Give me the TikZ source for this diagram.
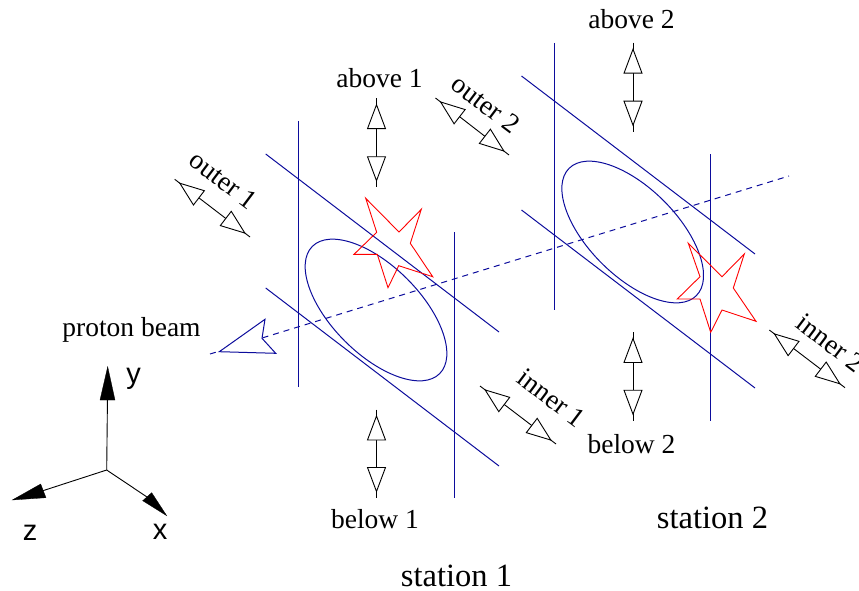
\documentclass[tikz,border=0pt]{standalone}
\usepackage{fontspec}
\setmainfont{Liberation Serif}
\newfontfamily\axisfont{Liberation Sans}
\usetikzlibrary{calc}
\definecolor{figblue}{HTML}{0C0C9C}
\tikzset{
  wire/.style={figblue,line width=1pt},
  beam/.style={figblue,line width=1pt,dash pattern=on 6pt off 5pt},
  starline/.style={red,line width=0.9pt,line join=miter},
  shaft/.style={black,line width=0.9pt},
  hollow/.style={black,fill=white,line width=0.9pt,line join=miter},
  solidhead/.style={black,fill=black,line width=0.3pt},
  lab/.style={inner sep=0pt,font=\fontsize{27.5}{30}\selectfont},
  biglab/.style={inner sep=0pt,font=\fontsize{32.5}{34}\selectfont},
  axlab/.style={inner sep=0pt,font=\axisfont\fontsize{29}{30}\selectfont}
}
\newcommand{\dblarrow}[3]{%
  \coordinate (#1a) at #2;
  \coordinate (#1b) at #3;
  \draw[shaft] (#1a) -- (#1b);
  \coordinate (#1p) at ($(#1a)!30.5pt!(#1b)$);
  \coordinate (#1q) at ($(#1b)!30.5pt!(#1a)$);
  \filldraw[hollow] ($(#1a)!6.5pt!(#1b)$) -- ($(#1p)!9pt!90:(#1a)$) -- ($(#1p)!9pt!-90:(#1a)$) -- cycle;
  \filldraw[hollow] ($(#1b)!6.5pt!(#1a)$) -- ($(#1q)!9pt!90:(#1b)$) -- ($(#1q)!9pt!-90:(#1b)$) -- cycle;
}
\begin{document}
\begin{tikzpicture}[x=1pt,y=-1pt]
\useasboundingbox (0,0) rectangle (859,591);
% station 1 frame
\coordinate (s1va) at (298.7,121); \coordinate (s1vb) at (298.7,387);
\coordinate (s1wa) at (454.3,232); \coordinate (s1wb) at (454.3,498);
\coordinate (s1ua) at (265.7,154); \coordinate (s1ub) at (499,332);
\coordinate (s1la) at (265.7,288); \coordinate (s1lb) at (499,466);
\draw[wire] (s1va) -- (s1vb);
\draw[wire] (s1wa) -- (s1wb);
\draw[wire] (s1ua) -- (s1ub);
\draw[wire] (s1la) -- (s1lb);
\draw[wire,rotate around={-45:(376,310)}] (376,310) ellipse [x radius=90pt,y radius=44pt];
% station 2 frame
\coordinate (s2va) at (554.7,43); \coordinate (s2vb) at (554.7,310);
\coordinate (s2wa) at (710.7,154); \coordinate (s2wb) at (710.7,421);
\coordinate (s2ua) at (521.5,76); \coordinate (s2ub) at (755,254);
\coordinate (s2la) at (521.5,210); \coordinate (s2lb) at (755,388);
\draw[wire] (s2va) -- (s2vb);
\draw[wire] (s2wa) -- (s2wb);
\draw[wire] (s2ua) -- (s2ub);
\draw[wire] (s2la) -- (s2lb);
\draw[wire,rotate around={-45:(632.7,232)}] (632.7,232) ellipse [x radius=90pt,y radius=44pt];
% beam
\coordinate (beamtip) at (210,354); \coordinate (beamend) at (789,176);
\draw[beam] (beamtip) -- (beamend);
\filldraw[wire,fill=white,line join=miter] (219.3,351.7) -- (265,319.3) -- (262,338.3) -- (275.7,353.3) -- cycle;
% stars
\draw[starline] (365.7,198.3) -- (376.7,232.3) -- (354,254.3) -- (377.3,254.3) -- (388,287.7) -- (398.7,265.7) -- (432.7,276.7) -- (410.3,243.3) -- (421.3,209.3) -- (399,232) -- cycle;
\draw[starline] (688.3,243.3) -- (700,276.7) -- (677.3,299) -- (700,299) -- (710.7,332.3) -- (722,310) -- (756,321.3) -- (733.3,288) -- (744.3,254) -- (722,276.7) -- cycle;
% double arrows
\dblarrow{ab1}{(376.5,98.2)}{(376.5,187.2)}
\dblarrow{be1}{(376.5,409.5)}{(376.5,498)}
\dblarrow{ab2}{(633,42.7)}{(633,131.7)}
\dblarrow{be2}{(633,332)}{(633,420.7)}
\dblarrow{ou1}{(174.7,179.3)}{(250,237)}
\dblarrow{ou2}{(435.5,98)}{(509,155)}
\dblarrow{in1}{(480,386)}{(556,444)}
\dblarrow{in2}{(769.3,330)}{(845,387.7)}
% axes
\coordinate (org) at (106.7,470);
\coordinate (ytip) at (107.7,366.7);
\coordinate (ztip) at (12.3,500);
\coordinate (xtip) at (166.7,515.7);
\draw[shaft] (org) -- (107.5,395);
\draw[shaft] (org) -- (42,491);
\draw[shaft] (org) -- (147,497);
\filldraw[solidhead] (ytip) -- (115,400) -- (100,400) -- cycle;
\filldraw[solidhead] (ztip) -- (40.7,484) -- (46,497.7) -- cycle;
\filldraw[solidhead] (xtip) -- (151.7,492.7) -- (142.7,500.7) -- cycle;
% labels
\node[lab] (tab1) at (379.5,78.5) {above 1};
\node[lab] (tab2) at (631.5,19.5) {above 2};
\node[lab] (tbe1) at (375,519) {below 1};
\node[lab] (tbe2) at (631.5,444) {below 2};
\node[lab] (tbeam) at (131.5,329.5) {proton beam};
\node[biglab] (tst1) at (456.5,576) {station 1};
\node[biglab] (tst2) at (712.5,518) {station 2};
\node[lab,rotate=-37] (tou1) at (223.5,180) {outer 1};
\node[lab,rotate=-37] (tou2) at (486,104) {outer 2};
\node[lab,rotate=-37] (tin1) at (551.5,398) {inner 1};
\node[lab,rotate=-37] (tin2) at (830.5,343) {inner 2};
\node[axlab] (ty) at (133.5,379) {y};
\node[axlab] (tx) at (160,531.5) {x};
\node[axlab] (tz) at (30,533) {z};
\end{tikzpicture}
\end{document}
